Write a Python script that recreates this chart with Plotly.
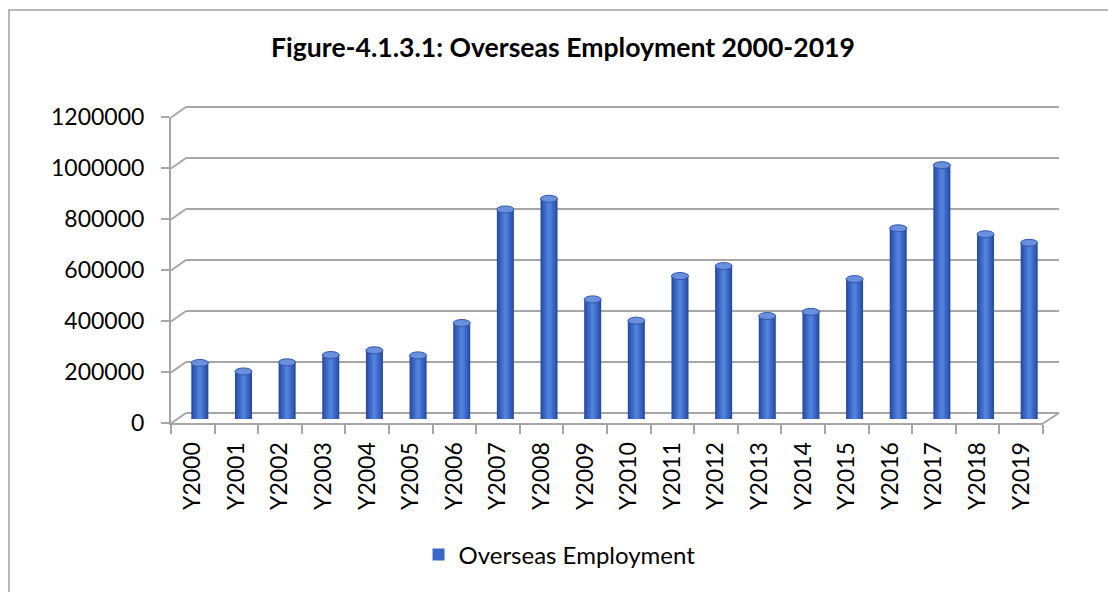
import plotly.graph_objects as go

years = ["Y2000", "Y2001", "Y2002", "Y2003", "Y2004", "Y2005", "Y2006", "Y2007", "Y2008", "Y2009",
         "Y2010", "Y2011", "Y2012", "Y2013", "Y2014", "Y2015", "Y2016", "Y2017", "Y2018", "Y2019"]
employment = [222686, 188965, 225256, 254190, 272958, 252702, 381516, 832609, 875055, 475278,
              390702, 568062, 607798, 409253, 425684, 555881, 757731, 1008525, 734181, 700159]
y_ticks = [0, 200000, 400000, 600000, 800000, 1000000, 1200000]
series_name = "Overseas Employment"
title_text = "Figure-4.1.3.1: Overseas Employment 2000-2019"

W, H = 1108, 592
FONT = "Lato"
GRID = "#A6A6A6"
YMAX = 1200000

def px(x):
    return x / W

def py(y):
    return 1 - y / H

# front plane (labels), mid-depth (bars), back wall (gridlines)
FX0, FX1, FY0, FY1 = 171, 1043, 423, 117
MX0, MX1, MY0, MY1 = 178, 1051, 419, 117
BX0, BX1, BY0, BY1 = 186, 1059, 413, 107
DX, DY = 15, 10.5
# back wall axis padded so shapes at its edges are not clipped
scale = (BY0 - BY1) / YMAX
PAD_LO, PAD_HI = 20, 8

fig = go.Figure()

# invisible trace to give the front category axis its ticks
fig.add_trace(go.Bar(x=years, y=employment, xaxis="x", yaxis="y", marker=dict(opacity=0),
                     showlegend=False, hoverinfo="skip"))

# layered bars to fake cylinder shading
layers = [(0.39, "#2A4C9E", False), (0.32, "#3259B5", False), (0.24, "#3B66C6", True),
          (0.15, "#4675D2", False), (0.07, "#5282DA", False)]
for w, c, leg in layers:
    fig.add_trace(go.Bar(x=years, y=employment, width=w, marker=dict(color=c, line=dict(width=0)),
                         xaxis="x2", yaxis="y3", name=series_name, showlegend=leg,
                         hoverinfo="x+y"))

shapes = []
# chart border
shapes.append(dict(type="path", xref="paper", yref="paper",
                   path=f"M {px(9)} {py(H)} L {px(9)} {py(10)} L {px(W)} {py(10)}",
                   line=dict(color="#A0A0A0", width=1.5), layer="below"))
# back wall gridlines and left-wall connectors
for v in y_ticks:
    shapes.append(dict(type="line", xref="paper", yref="y2",
                       x0=px(BX0), x1=px(BX1), y0=v, y1=v,
                       line=dict(color=GRID, width=2), layer="below"))
    shapes.append(dict(type="line", xref="paper", yref="y2", ysizemode="pixel", yanchor=v,
                       x0=px(FX0), x1=px(BX0), y0=-DY, y1=0,
                       line=dict(color=GRID, width=2), layer="below"))
# right floor edge
shapes.append(dict(type="line", xref="paper", yref="y2", ysizemode="pixel", yanchor=0,
                   x0=px(FX1), x1=px(BX1), y0=-DY, y1=0,
                   line=dict(color=GRID, width=2), layer="below"))
# cylinder caps
for i, v in enumerate(employment):
    shapes.append(dict(type="circle", xref="x2", yref="y3", ysizemode="pixel", yanchor=0,
                       x0=i - 0.195, x1=i + 0.195, y0=-3.5, y1=3.5,
                       fillcolor="#2A4C9E", line=dict(width=0), layer="below"))
    shapes.append(dict(type="circle", xref="x2", yref="y3", ysizemode="pixel", yanchor=v,
                       x0=i - 0.195, x1=i + 0.195, y0=-3.5, y1=3.5,
                       fillcolor="#6A8FDD", line=dict(color="#3156AE", width=1), layer="above"))

fig.update_layout(
    template="none",
    width=W, height=H,
    margin=dict(l=0, r=0, t=0, b=0, pad=0, autoexpand=False),
    paper_bgcolor="white", plot_bgcolor="rgba(0,0,0,0)",
    barmode="overlay",
    font=dict(family=FONT, size=22, color="black"),
    title=dict(text=f"<b>{title_text}</b>", x=563 / W, xanchor="center",
               y=py(48), yanchor="middle", xref="paper", yref="paper",
               font=dict(family=FONT, size=26.6, color="black")),
    xaxis=dict(domain=[px(FX0), px(FX1)], anchor="y", type="category",
               categoryarray=years, categoryorder="array", automargin=False,
               tickangle=-90, ticks="outside", tickson="boundaries", ticklen=9,
               tickcolor=GRID, tickwidth=2, showline=True, linecolor=GRID, linewidth=2,
               showgrid=False, zeroline=False, tickfont=dict(family=FONT, size=23),
               ticklabelstandoff=8),
    yaxis=dict(domain=[py(FY0), py(FY1)], anchor="x", range=[0, YMAX], automargin=False,
               tickvals=y_ticks, ticktext=[str(v) for v in y_ticks],
               ticks="outside", ticklen=8, tickcolor=GRID, tickwidth=2,
               showline=True, linecolor=GRID, linewidth=2, showgrid=False, zeroline=False,
               tickfont=dict(family=FONT, size=23), ticklabelstandoff=12),
    yaxis2=dict(domain=[py(BY0 + PAD_LO), py(BY1 - PAD_HI)], anchor="x",
                range=[-PAD_LO / scale, YMAX + PAD_HI / scale], visible=False),
    xaxis2=dict(domain=[px(MX0), px(MX1)], anchor="y3", type="category",
                categoryarray=years, categoryorder="array", visible=False),
    yaxis3=dict(domain=[py(MY0), py(MY1)], anchor="x2", range=[0, YMAX], visible=False),
    legend=dict(orientation="h", x=0.505, xanchor="center", y=py(555), yanchor="middle",
                font=dict(family=FONT, size=24), bgcolor="rgba(0,0,0,0)"),
    shapes=shapes,
)

fig.write_html("out.html")
